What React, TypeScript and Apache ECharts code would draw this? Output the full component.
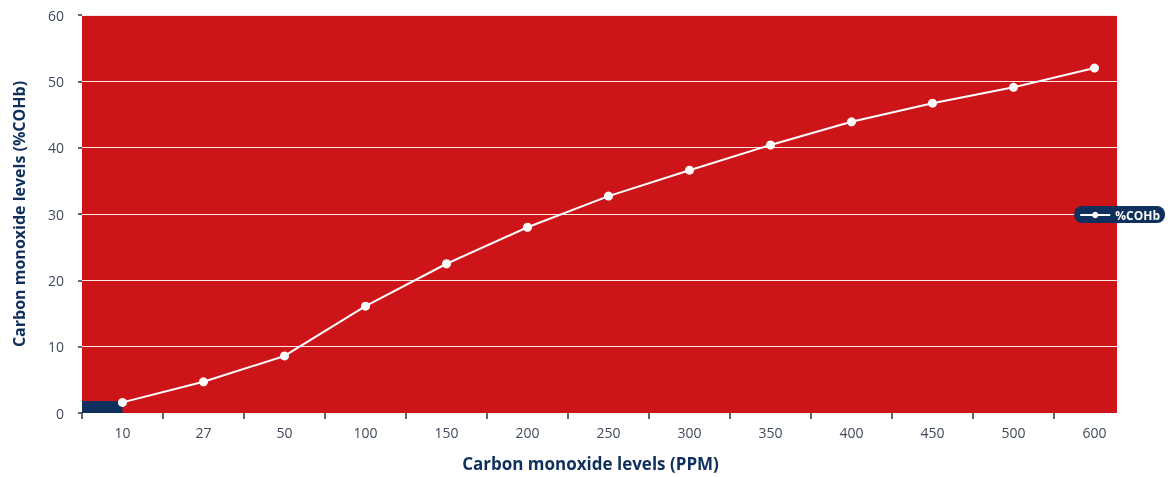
import React, { useEffect, useRef } from "react";
import * as echarts from "echarts";

const categories = ["10", "27", "50", "100", "150", "200", "250", "300", "350", "400", "450", "500", "600"];
const cohbValues = [1.6, 4.7, 8.6, 16.1, 22.5, 28.0, 32.7, 36.6, 40.4, 43.9, 46.7, 49.1, 52.0];
const baseBlockValues = [1.8];
const yTicks = { min: 0, max: 60, interval: 10 };

const NAVY = "#0f2f5c";
const RED = "#cd1519";
const LABEL = "#404a5a";

export default function App() {
  const ref = useRef<HTMLDivElement>(null);
  useEffect(() => {
    if (!ref.current) return;
    const chart = echarts.init(ref.current, null, { renderer: "svg" });
    chart.setOption({
      animation: false,
      textStyle: { fontFamily: "Open Sans" },
      grid: {
        left: 82, right: 36, top: 15, bottom: 64,
        backgroundColor: RED, show: true, borderWidth: 0,
        containLabel: false, outerBoundsMode: "none",
      },
      legend: {
        data: ["%COHb"],
        right: 6,
        top: 206,
        z: 200,
        backgroundColor: NAVY,
        borderRadius: 8,
        padding: [3, 5, 2, 5],
        itemWidth: 30,
        itemHeight: 8,
        itemGap: 4,
        textStyle: { color: "#fff", fontWeight: "bold", fontSize: 12, fontFamily: "Open Sans" },
        itemStyle: { color: "#fff" },
        lineStyle: { color: "#fff", width: 2 },
      },
      graphic: [
        { type: "rect", z: 100, shape: { x: 1117, y: 0, width: 40, height: 428 }, style: { fill: "#fff" } },
      ],
      xAxis: {
        type: "category",
        data: categories,
        boundaryGap: true,
        name: "Carbon monoxide levels (PPM)",
        nameLocation: "middle",
        nameGap: 42,
        nameTextStyle: { color: NAVY, fontWeight: "bold", fontSize: 17, padding: [0, 36, 0, 0] },
        axisLine: { show: false },
        axisTick: { show: true, length: 6, lineStyle: { color: "#333", width: 1.5 } },
        axisLabel: { color: LABEL, fontSize: 14, margin: 12 },
      },
      yAxis: {
        type: "value",
        min: yTicks.min,
        max: yTicks.max,
        interval: yTicks.interval,
        name: "Carbon monoxide levels (%COHb)",
        nameLocation: "middle",
        nameGap: 55,
        nameTextStyle: { color: NAVY, fontWeight: "bold", fontSize: 16 },
        axisLine: { show: false },
        axisTick: { show: true, length: 4, lineStyle: { color: "#333", width: 1.5 } },
        axisLabel: { color: LABEL, fontSize: 14, margin: 18 },
        splitLine: { show: true, lineStyle: { color: "rgba(255,255,255,0.9)", width: 1 } },
      },
      series: [
        {
          type: "custom",
          name: "base",
          silent: true,
          data: baseBlockValues.map((v, i) => [i, v]),
          renderItem: (params: any, api: any) => {
            const center = api.coord([api.value(0), api.value(1)]);
            const zero = api.coord([api.value(0), 0]);
            const band = api.size([1, 0])[0];
            return {
              type: "rect",
              shape: { x: center[0] - band / 2, y: center[1], width: band / 2, height: zero[1] - center[1] },
              style: { fill: NAVY },
            };
          },
          z: 2,
        },
        {
          type: "line",
          name: "%COHb",
          data: cohbValues,
          symbol: "circle",
          symbolSize: 9,
          lineStyle: { color: "#fff", width: 2 },
          itemStyle: { color: "#fff" },
          z: 3,
        },
      ],
    });
    return () => chart.dispose();
  }, []);
  return <div ref={ref} style={{ position: "fixed", left: 0, top: 0, width: 1171, height: 477 }} />;
}
